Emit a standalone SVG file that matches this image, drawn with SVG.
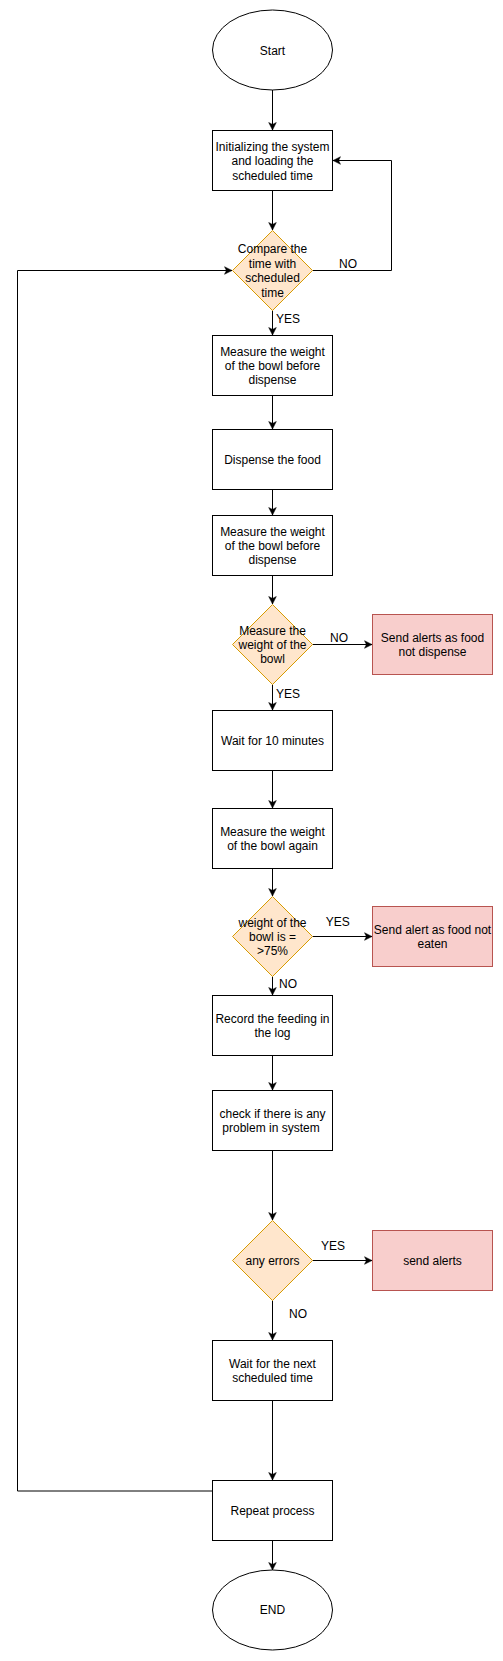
<svg xmlns="http://www.w3.org/2000/svg" width="503" height="1661" viewBox="0 0 503 1661">
<style>
.box{fill:#ffffff;stroke:#000000;stroke-width:1}
.dec{fill:#ffe6cc;stroke:#d79b00;stroke-width:1}
.alert{fill:#f8cecc;stroke:#b85450;stroke-width:1}
.t{font-family:"Liberation Sans",Arial,Helvetica,sans-serif;font-size:12px;fill:#000000;text-anchor:middle}
.edge{fill:none;stroke:#000000;stroke-width:1}
</style>
<defs>
<marker id="arr" markerUnits="userSpaceOnUse" markerWidth="10" markerHeight="10" viewBox="-8 -5 10 10" refX="0" refY="0" orient="auto">
<path d="M0,0 L-7.5,-3.8 L-5.6,0 L-7.5,3.8 Z" fill="#000000" stroke="#000000" stroke-width="0.5"/>
</marker>
</defs>
<rect width="503" height="1661" fill="#ffffff"/>
<g id="connectors">
<path class="edge" d="M272.5,90 L272.5,130" marker-end="url(#arr)"/>
<path class="edge" d="M272.5,190.5 L272.5,230" marker-end="url(#arr)"/>
<path class="edge" d="M312.5,270.5 L391.5,270.5 L391.5,160.5 L333,160.5" marker-end="url(#arr)"/>
<path class="edge" d="M272.5,310.5 L272.5,335" marker-end="url(#arr)"/>
<path class="edge" d="M272.5,395.5 L272.5,429" marker-end="url(#arr)"/>
<path class="edge" d="M272.5,489.5 L272.5,515" marker-end="url(#arr)"/>
<path class="edge" d="M272.5,575.5 L272.5,604" marker-end="url(#arr)"/>
<path class="edge" d="M312.5,644.5 L372,644.5" marker-end="url(#arr)"/>
<path class="edge" d="M272.5,684.5 L272.5,710" marker-end="url(#arr)"/>
<path class="edge" d="M272.5,770.5 L272.5,808" marker-end="url(#arr)"/>
<path class="edge" d="M272.5,868.5 L272.5,896" marker-end="url(#arr)"/>
<path class="edge" d="M312.5,936.5 L372,936.5" marker-end="url(#arr)"/>
<path class="edge" d="M272.5,976.5 L272.5,995" marker-end="url(#arr)"/>
<path class="edge" d="M272.5,1055.5 L272.5,1090" marker-end="url(#arr)"/>
<path class="edge" d="M272.5,1150.5 L272.5,1220" marker-end="url(#arr)"/>
<path class="edge" d="M312.5,1260.5 L372,1260.5" marker-end="url(#arr)"/>
<path class="edge" d="M272.5,1300.5 L272.5,1340" marker-end="url(#arr)"/>
<path class="edge" d="M272.5,1400.5 L272.5,1480" marker-end="url(#arr)"/>
<path class="edge" d="M272.5,1540.5 L272.5,1570" marker-end="url(#arr)"/>
<path class="edge" d="M212.5,1491 L17.5,1491 L17.5,270.5 L232,270.5" marker-end="url(#arr)"/>
<text class="t" x="348" y="267.6">NO</text>
<text class="t" x="288" y="322.6">YES</text>
<text class="t" x="339" y="642">NO</text>
<text class="t" x="288" y="697.6">YES</text>
<text class="t" x="337.8" y="926">YES</text>
<text class="t" x="288" y="988">NO</text>
<text class="t" x="333" y="1249.6">YES</text>
<text class="t" x="298" y="1317.6">NO</text>
</g>
<g id="start">
<ellipse class="box" cx="272.5" cy="50" rx="60" ry="40"/>
<text class="t" x="272.5" y="54.5">Start</text>
</g>
<g id="init">
<rect class="box" x="212.5" y="130.5" width="120" height="60"/>
<text class="t" x="272.5" y="151"><tspan x="272.5">Initializing the system</tspan><tspan x="272.5" dy="14.4">and loading the</tspan><tspan x="272.5" dy="14.4">scheduled time</tspan></text>
</g>
<g id="compare">
<path class="dec" d="M272.5,230.5 L312.5,270.5 L272.5,310.5 L232.5,270.5 Z"/>
<text class="t" x="272.5" y="253.4"><tspan x="272.5">Compare the</tspan><tspan x="272.5" dy="14.4">time with</tspan><tspan x="272.5" dy="14.4">scheduled</tspan><tspan x="272.5" dy="14.4">time</tspan></text>
</g>
<g id="measure1">
<rect class="box" x="212.5" y="335.5" width="120" height="60"/>
<text class="t" x="272.5" y="355.6"><tspan x="272.5">Measure the weight</tspan><tspan x="272.5" dy="14.4">of the bowl before</tspan><tspan x="272.5" dy="14.4">dispense</tspan></text>
</g>
<g id="dispense">
<rect class="box" x="212.5" y="429.5" width="120" height="60"/>
<text class="t" x="272.5" y="463.8">Dispense the food</text>
</g>
<g id="measure2">
<rect class="box" x="212.5" y="515.5" width="120" height="60"/>
<text class="t" x="272.5" y="535.6"><tspan x="272.5">Measure the weight</tspan><tspan x="272.5" dy="14.4">of the bowl before</tspan><tspan x="272.5" dy="14.4">dispense</tspan></text>
</g>
<g id="check-weight">
<path class="dec" d="M272.5,604.5 L312.5,644.5 L272.5,684.5 L232.5,644.5 Z"/>
<text class="t" x="272.5" y="634.6"><tspan x="272.5">Measure the</tspan><tspan x="272.5" dy="14.4">weight of the</tspan><tspan x="272.5" dy="14.4">bowl</tspan></text>
</g>
<g id="alert-not-dispensed">
<rect class="alert" x="372.5" y="614.5" width="120" height="60"/>
<text class="t" x="432.5" y="641.8"><tspan x="432.5">Send alerts as food</tspan><tspan x="432.5" dy="14.4">not dispense</tspan></text>
</g>
<g id="wait10">
<rect class="box" x="212.5" y="710.5" width="120" height="60"/>
<text class="t" x="272.5" y="744.8">Wait for 10 minutes</text>
</g>
<g id="measure3">
<rect class="box" x="212.5" y="808.5" width="120" height="60"/>
<text class="t" x="272.5" y="835.8"><tspan x="272.5">Measure the weight</tspan><tspan x="272.5" dy="14.4">of the bowl again</tspan></text>
</g>
<g id="check-eaten">
<path class="dec" d="M272.5,896.5 L312.5,936.5 L272.5,976.5 L232.5,936.5 Z"/>
<text class="t" x="272.5" y="926.6"><tspan x="272.5">weight of the</tspan><tspan x="272.5" dy="14.4">bowl is =</tspan><tspan x="272.5" dy="14.4">&gt;75%</tspan></text>
</g>
<g id="alert-not-eaten">
<rect class="alert" x="372.5" y="906.5" width="120" height="60"/>
<text class="t" x="432.5" y="933.8"><tspan x="432.5">Send alert as food not</tspan><tspan x="432.5" dy="14.4">eaten</tspan></text>
</g>
<g id="record">
<rect class="box" x="212.5" y="995.5" width="120" height="60"/>
<text class="t" x="272.5" y="1022.8"><tspan x="272.5">Record the feeding in</tspan><tspan x="272.5" dy="14.4">the log</tspan></text>
</g>
<g id="check-system">
<rect class="box" x="212.5" y="1090.5" width="120" height="60"/>
<text class="t" x="272.5" y="1117.8"><tspan x="272.5">check if there is any</tspan><tspan x="271" dy="14.4">problem in system</tspan></text>
</g>
<g id="any-errors">
<path class="dec" d="M272.5,1220.5 L312.5,1260.5 L272.5,1300.5 L232.5,1260.5 Z"/>
<text class="t" x="272.5" y="1264.8">any errors</text>
</g>
<g id="send-alerts">
<rect class="alert" x="372.5" y="1230.5" width="120" height="60"/>
<text class="t" x="432.5" y="1264.8">send alerts</text>
</g>
<g id="wait-next">
<rect class="box" x="212.5" y="1340.5" width="120" height="60"/>
<text class="t" x="272.5" y="1367.8"><tspan x="272.5">Wait for the next</tspan><tspan x="272.5" dy="14.4">scheduled time</tspan></text>
</g>
<g id="repeat">
<rect class="box" x="212.5" y="1480.5" width="120" height="60"/>
<text class="t" x="272.5" y="1514.8">Repeat process</text>
</g>
<g id="end">
<ellipse class="box" cx="272.5" cy="1610" rx="60" ry="40"/>
<text class="t" x="272.5" y="1614.3">END</text>
</g>
</svg>
